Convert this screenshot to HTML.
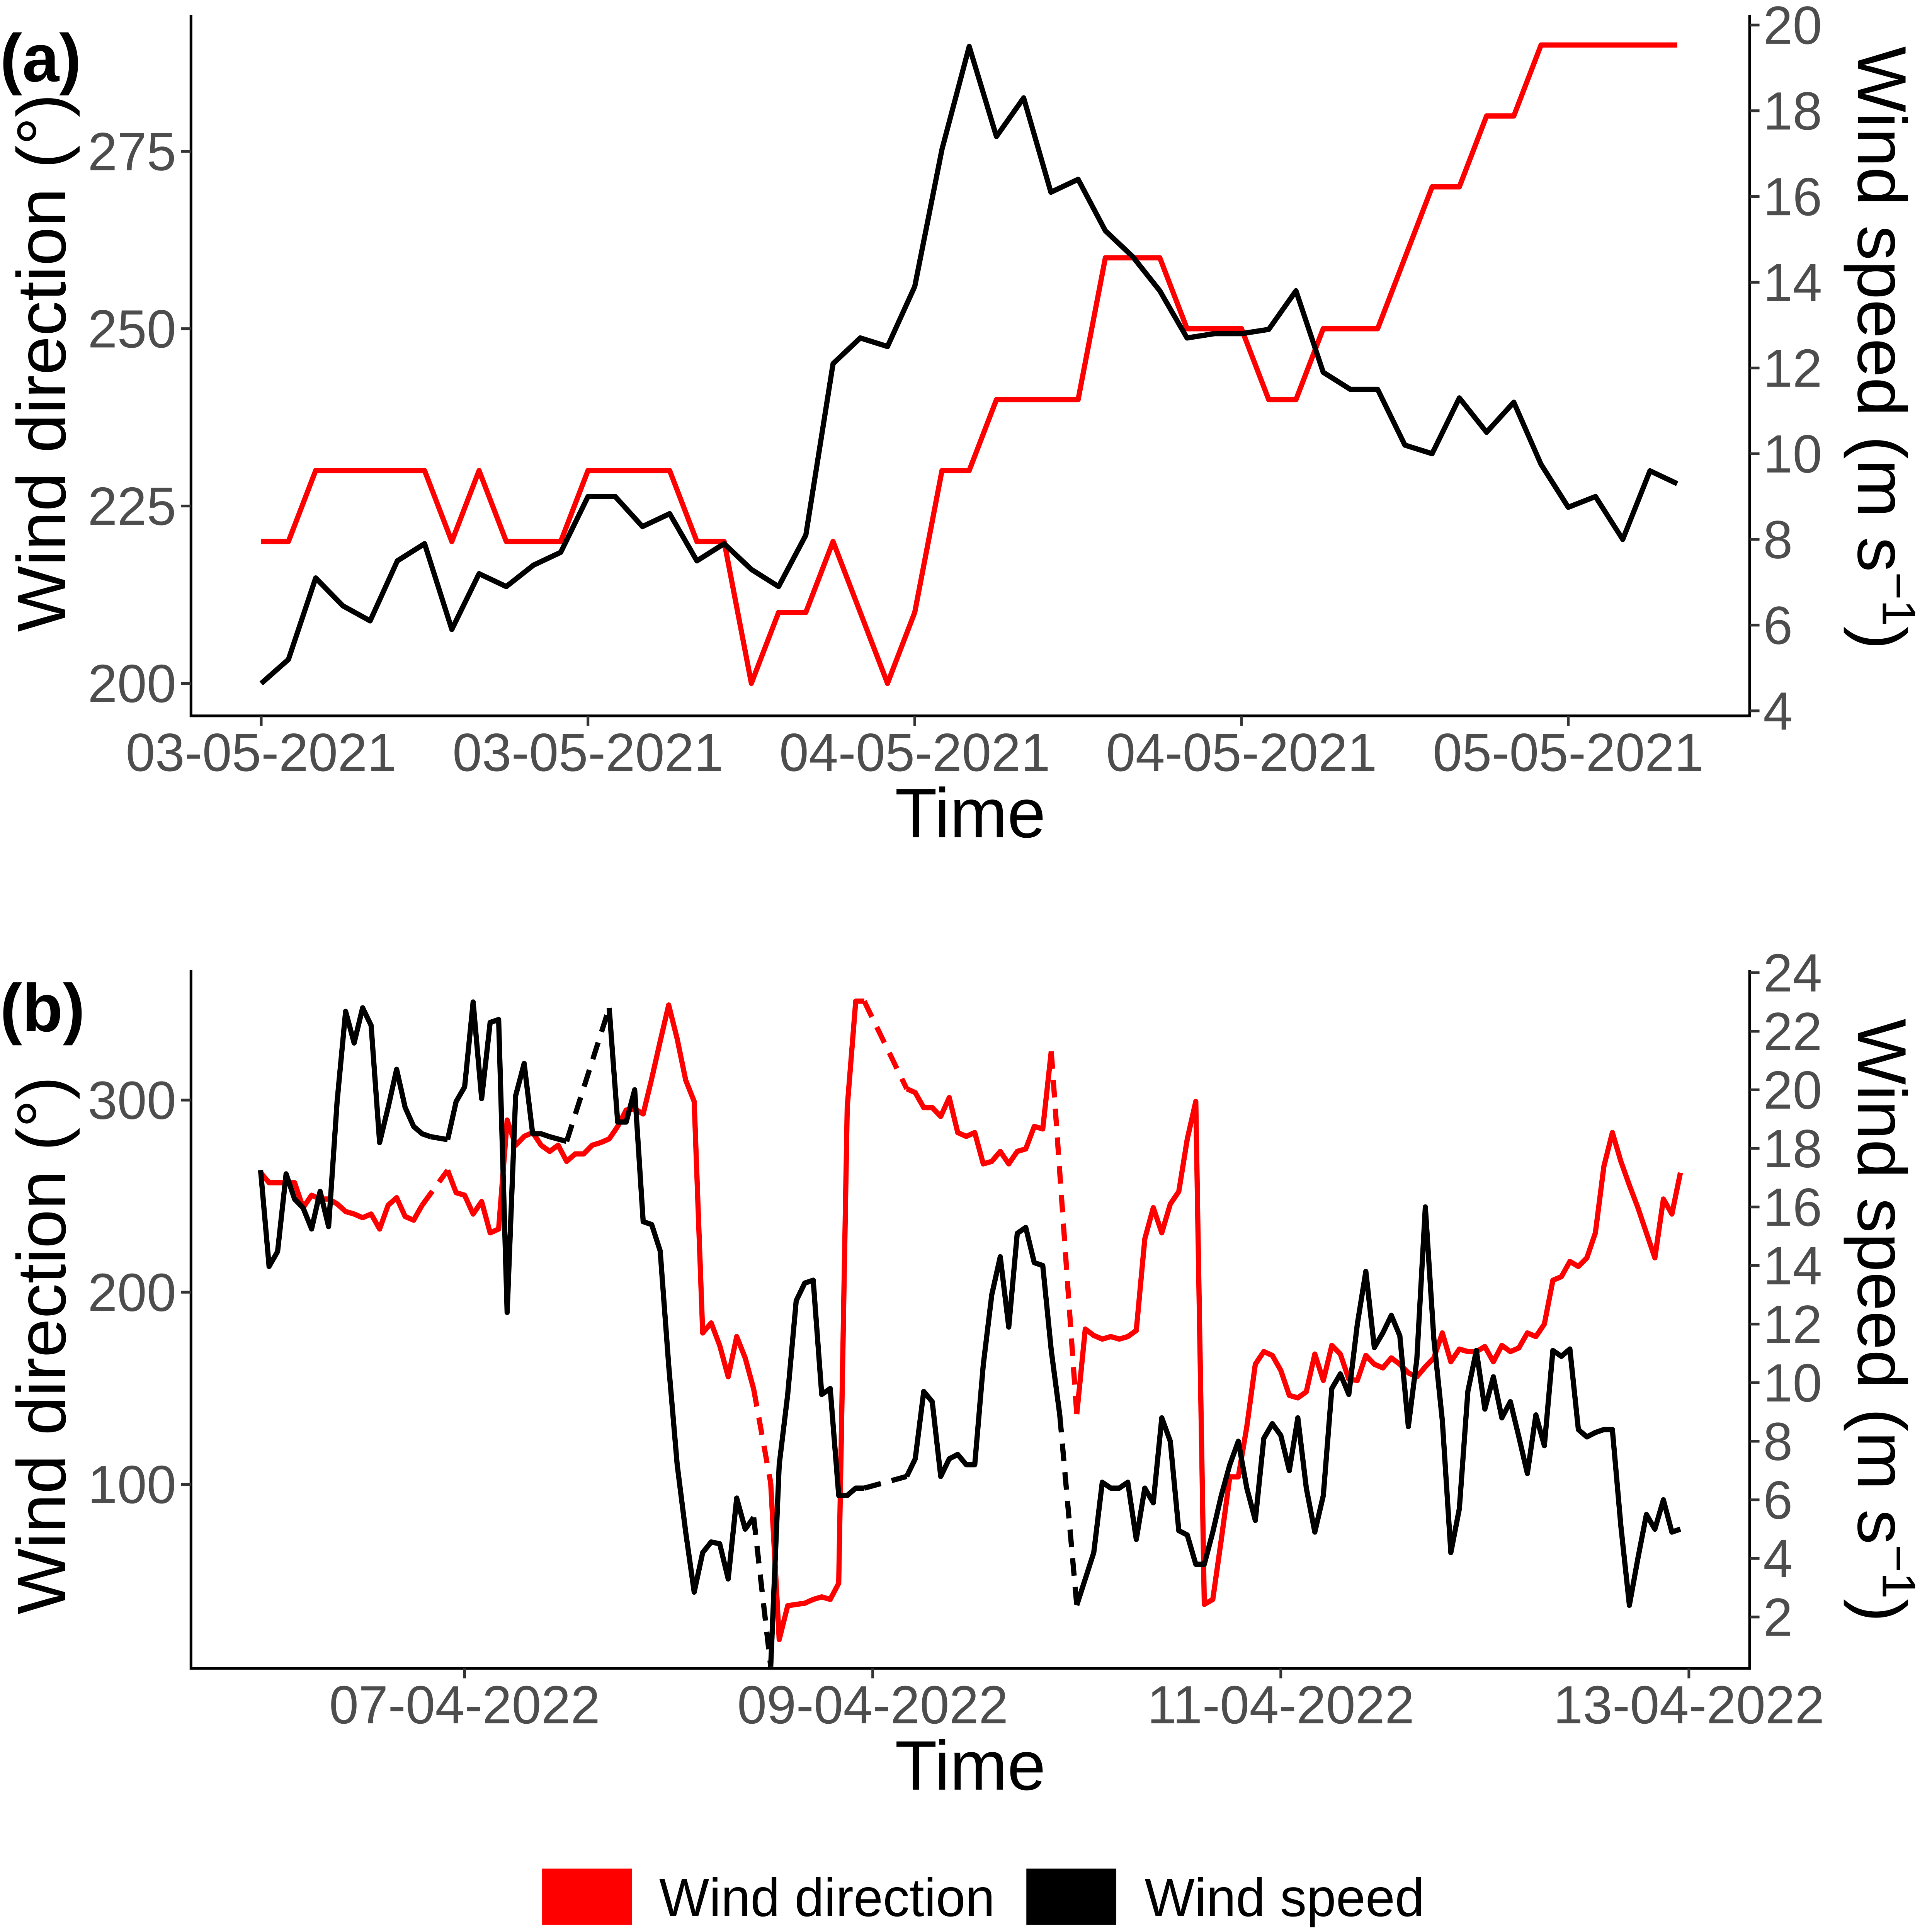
<!DOCTYPE html>
<html>
<head>
<meta charset="utf-8">
<style>
html,body{margin:0;padding:0;background:#fff;overflow:hidden;width:100%;height:100%;}
svg{display:block;position:fixed;left:0;top:0;width:100vw;height:100vh;}
text{font-family:"Liberation Sans",sans-serif;}
</style>
</head>
<body>
<svg id="chart" viewBox="0 0 1568 1543.7" preserveAspectRatio="none" xmlns="http://www.w3.org/2000/svg">
<rect x="0" y="0" width="1568" height="1544" fill="#fff"/>
<g id="pa"></g>
<g id="pb"></g>
<g>
  <rect x="440" y="1493" width="73" height="45" fill="#ff0000"/>
  <text x="535" y="1531" font-size="43" fill="#000">Wind direction</text>
  <rect x="833" y="1493" width="73" height="45" fill="#000"/>
  <text x="929" y="1531" font-size="43" fill="#000">Wind speed</text>
</g>
</svg>
<script>
// ---- Panel (a) data (hourly from 03-05-2021 00:00) ----
const aTickLabels = ["03-05-2021","03-05-2021","04-05-2021","04-05-2021","05-05-2021"];
const aTickHours = [0,12,24,36,48];
const aDirTicks = [200,225,250,275];
const aSpdTicks = [4,6,8,10,12,14,16,18,20];
const aSpeed = [4.64,5.2,7.1,6.45,6.1,7.5,7.9,5.9,7.2,6.9,7.4,7.7,9.0,9.0,8.3,8.6,7.5,7.9,7.3,6.9,8.1,12.1,12.7,12.5,13.9,17.1,19.5,17.4,18.3,16.1,16.4,15.2,14.6,13.8,12.7,12.8,12.8,12.9,13.8,11.9,11.5,11.5,10.2,10.0,11.3,10.5,11.2,9.75,8.75,9.0,8.0,9.6,9.3];
const aDirection = [220,220,230,230,230,230,230,220,230,220,220,220,230,230,230,230,220,220,200,210,210,220,210,200,210,230,230,240,240,240,240,260,260,260,250,250,250,240,240,250,250,250,260,270,270,280,280,290,290,290,290,290,290];

// ---- Panel (b) data (hourly from 06-04-2022 00:00, null = missing) ----
const bTickLabels = ["07-04-2022","09-04-2022","11-04-2022","13-04-2022"];
const bTickHours = [24,72,120,168];
const bDirTicks = [100,200,300];
const bSpdTicks = [2,4,6,8,10,12,14,16,18,20,22,24];
const bSpeed = [17.26,13.97,14.48,17.13,16.27,15.97,15.25,16.53,15.33,19.6,22.68,21.6,22.8,22.2,18.2,19.4,20.7,19.4,18.75,18.5,18.4,null,18.3,19.6,20.1,23.0,19.7,22.3,22.4,12.4,19.8,20.9,18.5,18.5,18.4,null,18.24,null,null,null,null,22.8,18.9,18.9,20.0,15.5,15.4,14.5,10.6,7.2,4.9,2.85,4.2,4.56,4.5,3.3,6.06,5.0,5.4,null,0.3,7.2,9.6,12.8,13.4,13.5,9.6,9.8,6.15,6.15,6.4,6.4,null,null,null,null,6.8,7.4,9.7,9.35,6.8,7.4,7.55,7.2,7.2,10.6,13.0,14.3,11.9,15.1,15.3,14.1,14.0,11.1,8.9,null,2.4,3.3,4.2,6.6,6.4,6.4,6.6,4.65,6.4,5.9,8.8,8.0,4.95,4.8,3.8,3.8,4.9,6.15,7.2,8.0,6.4,5.3,8.1,8.6,8.2,7.0,8.8,6.4,4.9,6.15,9.8,10.3,9.6,12.0,13.8,11.2,11.7,12.3,11.6,8.5,10.8,16.0,11.5,8.7,4.2,5.7,9.7,11.1,9.1,10.2,8.8,9.35,8.15,6.9,8.9,7.85,11.1,10.9,11.15,8.4,8.15,8.3,8.4,8.4,5.1,2.4,4.0,5.5,5.0,6.0,4.9,5.0];
const bDirection = [262.2,257,257,257,257,244,250.5,248.5,248.5,246,242,240.7,238.8,240.7,232.9,245.3,249.2,239.4,237.5,245.3,null,null,263.5,251.8,250.5,240.7,247.2,230.9,232.9,289.6,276.5,281.1,283.1,276.5,273.3,276.5,268.1,272,272,276.5,277.9,279.8,286.3,294.8,295.4,292.8,311.1,330.6,349.5,331.9,310.4,299.3,178.8,184,172.3,156,176.9,165.8,149.5,null,100.7,19.2,36.8,37.5,38.1,40.1,41.4,40.1,48.5,296.1,351.5,351.5,null,null,null,null,305.9,303.9,296.1,296.1,291.5,301.3,283.1,281.1,283.1,266.8,268.1,273.3,266.8,273.3,274.6,286.3,285,325.4,null,null,136.5,180.8,177.5,175.6,176.9,175.6,176.9,180.1,227.7,244,230.9,245.9,252.4,279.8,299.3,37.5,40.1,71.3,103.9,103.9,130,162.5,169.1,167.1,159.3,146.3,145,148.2,167.8,154.1,172.3,167.8,154.7,154.1,167.1,162.5,160.6,165.8,162.5,158,156,161.2,165.8,178.8,163.8,170.4,169.1,169.1,171.7,163.8,172.3,169.1,171,178.8,176.9,183.4,206.2,208.1,216,213.4,217.9,230.9,265.5,283.1,268.1,255.7,244,230.9,217.9,248.5,240.7,262.2];

const NS = "http://www.w3.org/2000/svg";
function mk(parent, tag, attrs){
  const e = document.createElementNS(NS, tag);
  for (const k in attrs) e.setAttribute(k, attrs[k]);
  parent.appendChild(e);
  return e;
}

function drawPanel(g, cfg){
  const {x0,x1,y0,y1,xs,yl,yr,label,letterY,titleY,rTitleY} = cfg;
  function series(vals, scale, color, nm){
    let seg = [], lastValid = null;
    const solid = [];
    const dashes = [];
    vals.forEach((v,i)=>{
      if (v === null){ if (seg.length) solid.push(seg); seg = []; return; }
      const p = [xs(i), scale(v)];
      if (lastValid && lastValid.i !== i-1) dashes.push([lastValid.p, p]);
      seg.push(p); lastValid = {i, p};
    });
    if (seg.length) solid.push(seg);
    solid.forEach(s=>{
      if (s.length < 2) return;
      const pl = mk(g,'polyline',{points:s.map(p=>p.join(',')).join(' '),fill:'none',stroke:color,'stroke-width':4.2,'stroke-linejoin':'round'});
      
      
    });
    dashes.forEach(d=>{
      const ln = mk(g,'line',{x1:d[0][0],y1:d[0][1],x2:d[1][0],y2:d[1][1],stroke:color,'stroke-width':4.2,'stroke-dasharray':'14,9'});
      
      
    });
  }
  series(cfg.dir, yl, '#ff0000', 'wind-direction');
  series(cfg.spd, yr, '#000000', 'wind-speed');
  const ax = mk(g,'path',{d:`M${x0},${y0} V${y1} H${x1} V${y0}`,fill:'none',stroke:'#000','stroke-width':2.2});
  
  
  cfg.dirTicks.forEach(t=>{
    const y = yl(t);
    mk(g,'line',{x1:x0-8,x2:x0,y1:y,y2:y,stroke:'#333','stroke-width':2.2});
    const tx = mk(g,'text',{x:x0-12,y:y+15,'font-size':43,fill:'#4d4d4d','text-anchor':'end'});
    tx.textContent = t;
    
    
  });
  cfg.spdTicks.forEach(t=>{
    const y = yr(t);
    mk(g,'line',{x1:x1,x2:x1+8,y1:y,y2:y,stroke:'#333','stroke-width':2.2});
    const tx = mk(g,'text',{x:x1+11,y:y+15,'font-size':43,fill:'#4d4d4d'});
    tx.textContent = t;
    
    
  });
  cfg.xHours.forEach((h,i)=>{
    const x = xs(h);
    mk(g,'line',{x1:x,x2:x,y1:y1,y2:y1+8,stroke:'#333','stroke-width':2.2});
    const tx = mk(g,'text',{x:x,y:y1+44,'font-size':43,fill:'#4d4d4d','text-anchor':'middle'});
    tx.textContent = cfg.xLabels[i];
    
    
  });
  const xt = mk(g,'text',{x:(x0+x1)/2,y:y1+97,'font-size':56,fill:'#000','text-anchor':'middle'});
  xt.textContent = 'Time';
  
  
  const yt = mk(g,'text',{transform:`translate(53,${titleY}) rotate(-90)`,'font-size':56,fill:'#000','text-anchor':'middle'});
  yt.textContent = 'Wind direction (°)';
  
  
  const rt = mk(g,'text',{transform:`translate(1508,${rTitleY}) rotate(90)`,'font-size':56,fill:'#000','text-anchor':'middle'});
  rt.innerHTML = 'Wind speed (m s<tspan dy="-20" font-size="38">−1</tspan><tspan dy="20">)</tspan>';
  
  
  const pl = mk(g,'text',{x:0,y:letterY,'font-size':54,'font-weight':'bold',fill:'#000'});
  pl.textContent = label;
  
  
}

drawPanel(document.getElementById('pa'), {
  x0:155,x1:1420,y0:12,y1:572,
  xs:h=>212+h*22.1,
  yl:v=>546-(v-200)*5.667,
  yr:v=>568-(v-4)*34.25,
  dir:aDirection, spd:aSpeed,
  dirTicks:aDirTicks, spdTicks:aSpdTicks,
  xHours:aTickHours, xLabels:aTickLabels,
  label:'(a)', letterY:65, titleY:290, rTitleY:278
});
drawPanel(document.getElementById('pb'), {
  x0:155,x1:1420,y0:775,y1:1333,
  xs:h=>211.5+h*6.9,
  yl:v=>1186-(v-100)*1.535,
  yr:v=>1292-(v-2)*23.4,
  dir:bDirection, spd:bSpeed,
  dirTicks:bDirTicks, spdTicks:bSpdTicks,
  xHours:bTickHours, xLabels:bTickLabels,
  label:'(b)', letterY:824, titleY:1075, rTitleY:1055
});
</script>
</body>
</html>
